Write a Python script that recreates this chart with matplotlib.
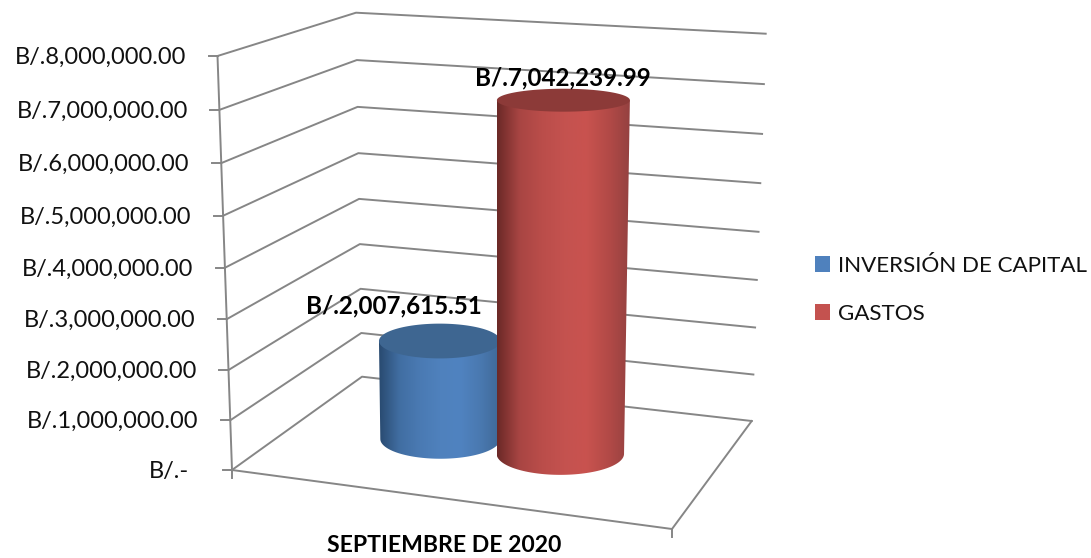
import numpy as np
import matplotlib
matplotlib.use("Agg")
import matplotlib.pyplot as plt
from matplotlib.colors import LinearSegmentedColormap
from matplotlib.patches import Patch, Polygon

plt.rcParams['font.family'] = ['Lato', 'DejaVu Sans']

# Data
series_names = ["INVERSIÓN DE CAPITAL", "GASTOS"]
series_values = [2007615.51, 7042239.99]
value_labels = ["B/.2,007,615.51", "B/.7,042,239.99"]
axis_values = [0, 1000000, 2000000, 3000000, 4000000, 5000000, 6000000, 7000000, 8000000]
axis_labels = ["B/.-", "B/.1,000,000.00", "B/.2,000,000.00", "B/.3,000,000.00", "B/.4,000,000.00",
               "B/.5,000,000.00", "B/.6,000,000.00", "B/.7,000,000.00", "B/.8,000,000.00"]
category = "SEPTIEMBRE DE 2020"

# Fake 3D box, in pixels of the 1091x558 picture
FRONT_LEFT = np.array([232, 470.0])
FRONT_LEFT_TOP = np.array([217.5, 56.0])
BACK_LEFT = np.array([362, 376.7])
BACK_LEFT_TOP = np.array([356, 12.7])
BACK_RIGHT = np.array([751.7, 421.0])
BACK_RIGHT_TOP = np.array([765.7, 33.7])
FRONT_RIGHT = np.array([672, 529.0])
VMAX = axis_values[-1]
PERSP = -0.045  # perspective squeeze of the value axis
GREY = "#868686"
LW = 1.4


def frac(v):
    """Value to 0-1 height, with a little perspective"""
    t = v / VMAX
    return t * (1 + PERSP) / (1 + PERSP * t)


def edge(a, b, v):
    return a + (b - a) * frac(v)


def floor(u, d):
    """Point on the floor, u along the category axis, d in depth"""
    left = FRONT_LEFT + (BACK_LEFT - FRONT_LEFT) * d
    right = FRONT_RIGHT + (BACK_RIGHT - FRONT_RIGHT) * d
    return left + (right - left) * u


fig = plt.figure(figsize=(10.91, 5.58), dpi=100)
ax = fig.add_axes([0, 0, 1, 1])
ax.set_axis_off()

# walls and ticks
for v, lab in zip(axis_values, axis_labels):
    p0 = edge(FRONT_LEFT, FRONT_LEFT_TOP, v)
    p1 = edge(BACK_LEFT, BACK_LEFT_TOP, v)
    p2 = edge(BACK_RIGHT, BACK_RIGHT_TOP, v)
    ax.plot([p0[0], p1[0], p2[0]], [p0[1], p1[1], p2[1]], color=GREY, lw=LW, zorder=1)
    ax.plot([p0[0] - 9, p0[0]], [p0[1], p0[1]], color=GREY, lw=LW, zorder=1)
    gap = 43 if v == 0 else 31.5
    ax.text(p0[0] - gap, p0[1] + 1.5, lab, ha='right', va='center', fontsize=17, color='#111111')

ax.plot([FRONT_LEFT_TOP[0], FRONT_LEFT[0], FRONT_LEFT[0]], [FRONT_LEFT_TOP[1], FRONT_LEFT[1], FRONT_LEFT[1] + 8],
        color=GREY, lw=LW, zorder=1)
ax.plot([FRONT_LEFT[0], FRONT_RIGHT[0], BACK_RIGHT[0]], [FRONT_LEFT[1], FRONT_RIGHT[1], BACK_RIGHT[1]],
        color=GREY, lw=LW, zorder=1)
ax.plot([FRONT_RIGHT[0], FRONT_RIGHT[0]], [FRONT_RIGHT[1], FRONT_RIGHT[1] + 8], color=GREY, lw=LW, zorder=1)

# cylinders
positions = [0.34, 0.63]
radius = [60, 63.7]
side_colors = [
    ["#294a70", "#416ea2", "#4a7ab3", "#4f81bd", "#5083c0", "#4a79b0", "#3f6896"],
    ["#6b2927", "#a84543", "#ba4d4a", "#c4524f", "#c9534f", "#b34a47", "#934140"],
]
top_colors = ["#3e6691", "#8c3a38"]
label_dx = [-46, -1]
label_gap = [18, 11]
angles = np.linspace(0, np.pi, 80)

for i, v in enumerate(series_values):
    base = floor(positions[i], 0.52)
    f = frac(v)
    grow = 1 + 0.05 * f
    xt = 490 + (base[0] - 490) * grow
    yt = base[1] - 404 * f
    rt = radius[i] * grow
    ry_base = 0.33 * radius[i]
    ry_top = (0.33 - 0.18 * f) * rt

    # side: trapezoid and the lower half of the base ellipse
    xs = base[0] + radius[i] * np.cos(angles)
    ys = base[1] + ry_base * np.sin(angles)
    pts = np.vstack([[xt + rt, yt], np.column_stack([xs, ys]), [xt - rt, yt]])
    clip = Polygon(pts, closed=True, facecolor='none', edgecolor='none', transform=ax.transData)
    ax.add_patch(clip)
    cmap = LinearSegmentedColormap.from_list("side%d" % i, side_colors[i])
    im = ax.imshow(np.linspace(0, 1, 256)[None, :], cmap=cmap, aspect='auto', zorder=2 + i,
                   extent=[min(xt - rt, base[0] - radius[i]), max(xt + rt, base[0] + radius[i]), 0, 558])
    im.set_clip_path(clip)

    # lid
    a2 = np.linspace(0, 2 * np.pi, 160)
    ax.fill(xt + rt * np.cos(a2), yt + ry_top * np.sin(a2), color=top_colors[i], lw=0, zorder=2 + i)

    ax.text(xt + label_dx[i], yt - ry_top - label_gap[i], value_labels[i],
            ha='center', va='center', fontsize=17.4, fontweight='bold', color='black', zorder=6)

ax.text(444, 546, category, ha='center', va='center', fontsize=16.6, fontweight='bold', color='black')

handles = [Patch(facecolor=side_colors[0][3], label=series_names[0]),
           Patch(facecolor=side_colors[1][3], label=series_names[1])]
ax.legend(handles=handles, loc='center left', bbox_to_anchor=(808, 290), bbox_transform=ax.transData,
          frameon=False, fontsize=16.1, labelcolor='#111111', handlelength=0.7, handleheight=0.7,
          handletextpad=0.35, labelspacing=1.26, borderpad=0.3, borderaxespad=0)

ax.set_xlim(0, 1091)
ax.set_ylim(558, 0)

fig.savefig("out.png", dpi=100)
